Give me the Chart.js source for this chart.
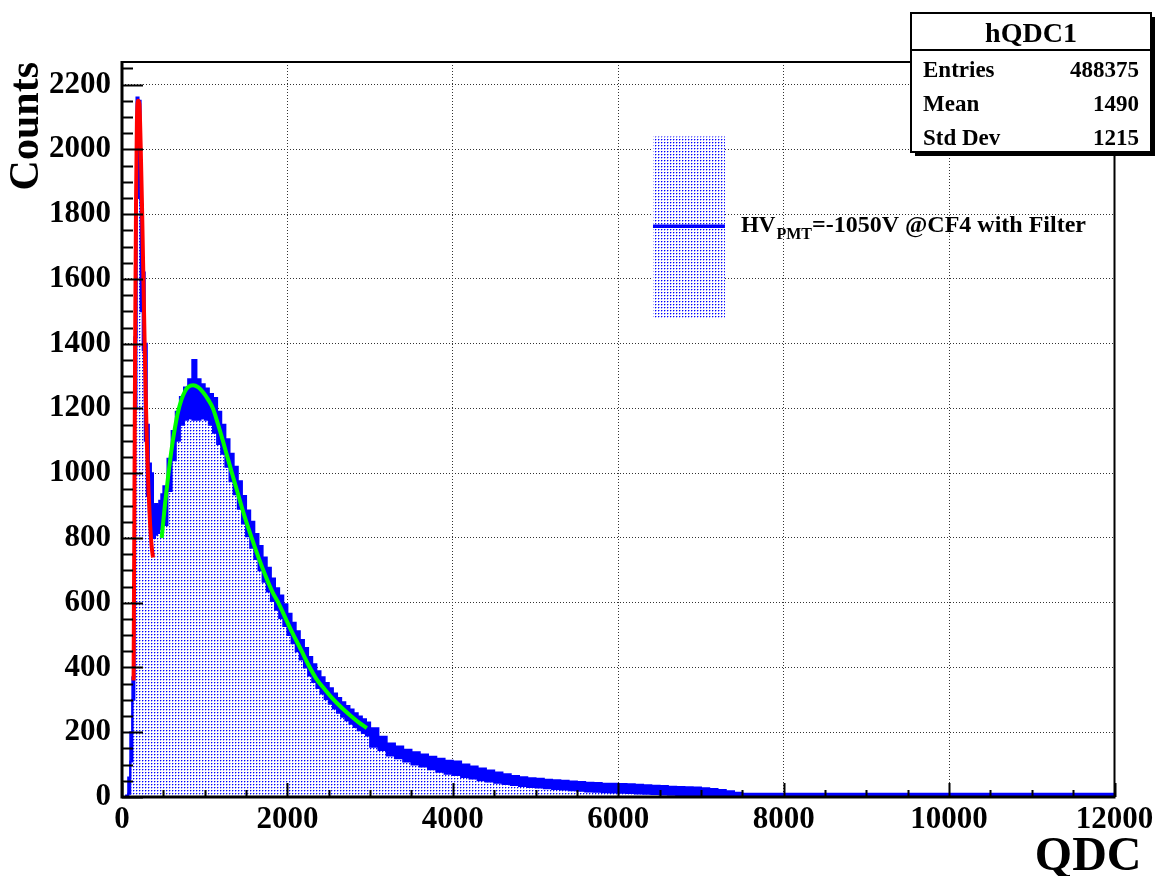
<!DOCTYPE html>
<html><head><meta charset="utf-8">
<script src="https://cdn.jsdelivr.net/npm/chart.js@4.4.1/dist/chart.umd.min.js"></script>
<style>html,body{margin:0;padding:0;background:#fff;}canvas{display:block;}</style>
</head><body>
<canvas id="c" width="1160" height="876" style="width:1160px;height:876px"></canvas>
<script>
// ---- histogram hQDC1 : bin left edges (QDC) and band (upper/lower envelope) counts ----
const pedestalQDC   = [0,25,50,75,100,125,150,175,200,225,250,275,300,325,350,375,400,425,450,475];
const pedestalUpper = [0,0,5,60,200,370,1420,2160,2150,1830,1620,1400,1150,1030,1000,900,905,900,915,935];
const pedestalLower = [0,0,0,10,110,300,1200,1850,1900,1500,1380,1100,930,880,830,800,810,815,830,850];

const peakQDC   = [500,550,600,650,700,750,800,850,900,950,1000,1050,1100,1150,1200,1250,1300,1350,1400,1450,1500,1550,1600,1650,1700,1750,1800,1850,1900,1950,2000,2050,2100,2150,2200,2250,2300,2350,2400,2450,2500,2550,2600,2650,2700,2750,2800,2850,2900,2950];
const peakUpper = [960,1045,1130,1190,1235,1265,1290,1350,1290,1275,1262,1245,1232,1190,1150,1105,1060,1020,975,930,885,850,812,775,740,708,675,645,622,595,566,538,512,485,460,432,410,388,370,352,336,320,306,293,281,270,259,249,240,230];
const peakLower = [840,945,1040,1100,1150,1165,1170,1165,1165,1170,1165,1150,1125,1090,1060,1020,975,935,890,845,805,770,735,700,665,635,605,578,553,528,500,475,450,425,400,375,355,337,320,303,288,273,260,248,237,226,216,206,198,190];

const tailQDC   = [3000,3100,3200,3300,3400,3500,3600,3700,3800,3900,4000,4100,4200,4300,4400,4500,4600,4700,4800,4900,5000,5100,5200,5300,5400,5500,5600,5700,5800,5900,6000,6100,6200,6300,6400,6500,6600,6700,6800,6900,7000,7100,7200,7300,7400,7500,7600];
const tailUpper = [212,186,165,156,146,138,131,124,118,112,110,100,94,88,82,76,70,65,61,58,56,53,52,50,48,46,44,43,41,41,40,39,38,36,35,34,32,31,30,29,27,25,22,18,13,10,10];
const tailLower = [155,145,128,120,110,100,94,86,78,72,68,62,57,52,48,44,40,37,34,31,29,27,25,23,21,19,17,16,15,14,13,12,11,10,9,8,7,6,5,4,3,2,1,0,0,0,0];
const histEnd = 12000;

// ---- fit functions ----
const gausQDC    = [140,150,160,170,180,195,210,225,240,255,270,285,300,320,340,360,375];
const gausCounts = [360,900,1450,1850,2080,2150,2140,2020,1850,1650,1450,1260,1100,950,840,770,740];
const landauQDC    = [480,520,560,600,640,680,720,760,800,860,920,980,1040,1100,1160,1220,1280,1330,1400,1480,1568,1650,1740,1820,1900,1990,2080,2170,2250,2350,2450,2550,2650,2750,2850,2960];
const landauCounts = [800,905,995,1075,1140,1192,1228,1252,1266,1272,1266,1250,1228,1200,1152,1100,1045,1000,938,868,800,740,680,633,595,545,497,452,410,365,333,303,277,254,233,213];

// ---- axis ticks / labels / stats ----
const xTickStep = 2000, xMinorStep = 500, xMax = 12000;
const yTickStep = 200, yMinorStep = 50, yMax = 2270;
const statsTitle = 'hQDC1';
const statsLabels = ['Entries','Mean','Std Dev'];
const statsValues = ['488375','1490','1215'];
const legendMain = 'HV', legendSub = 'PMT', legendRest = '=-1050V @CF4 with Filter';
const xTitle = 'QDC', yTitle = 'Counts';

const binQDC = pedestalQDC.concat(peakQDC, tailQDC);
const upper = pedestalUpper.concat(peakUpper, tailUpper);
const lower = pedestalLower.concat(peakLower, tailLower);
function steps(edges, vals, end){
  const pts = edges.map((q,i)=>({x:q,y:vals[i]}));
  pts.push({x:end, y:vals[vals.length-1]});
  return pts;
}
const canvas = document.getElementById('c');
const ctx0 = canvas.getContext('2d');
function makePattern(){
  const t = document.createElement('canvas'); t.width = 3; t.height = 3;
  const g = t.getContext('2d');
  g.fillStyle = '#ffffff'; g.fillRect(0,0,3,3);
  g.fillStyle = '#0000ff'; g.fillRect(1,1,1,1);
  g.fillStyle = 'rgba(0,0,255,0.35)'; g.fillRect(2,1,1,1); g.fillRect(1,2,1,1);
  return ctx0.createPattern(t,'repeat');
}
const dotPattern = makePattern();
const SERIF = '"Liberation Serif", "Times New Roman", serif';

const decor = {
  id:'rootDecor',
  afterDraw(chart){
    const ctx = chart.ctx, a = chart.chartArea, xs = chart.scales.x, ys = chart.scales.y;
    ctx.save();
    // ticks (inward)
    ctx.strokeStyle = '#000'; ctx.lineWidth = 2;
    ctx.beginPath();
    for (let v = 0; v <= xMax; v += xMinorStep){
      const px = Math.round(xs.getPixelForValue(v)) + 0.5;
      const len = (v % xTickStep === 0) ? 14 : 7;
      ctx.moveTo(px, a.bottom); ctx.lineTo(px, a.bottom - len);
    }
    for (let v = 0; v <= yMax; v += yMinorStep){
      const py = Math.round(ys.getPixelForValue(v)) + 0.5;
      const len = (v % yTickStep === 0) ? 21 : 11;
      ctx.moveTo(a.left, py); ctx.lineTo(a.left + len, py);
    }
    ctx.stroke();
    // frame
    ctx.lineWidth = 2;
    ctx.beginPath();
    ctx.moveTo(a.left, a.top); ctx.lineTo(a.right, a.top); ctx.lineTo(a.right, a.bottom);
    ctx.stroke();
    ctx.lineWidth = 3;
    ctx.beginPath();
    ctx.moveTo(a.left, a.top - 1); ctx.lineTo(a.left, a.bottom); ctx.lineTo(a.right + 1, a.bottom);
    ctx.stroke();

    // legend
    const lx0 = xs.getPixelForValue(6420), lx1 = xs.getPixelForValue(7290);
    const ly0 = ys.getPixelForValue(2040), ly1 = ys.getPixelForValue(1480);
    ctx.fillStyle = dotPattern;
    ctx.fillRect(lx0, ly0, lx1 - lx0, ly1 - ly0);
    const lym = (ly0 + ly1) / 2 - 1;
    ctx.strokeStyle = '#0000ff'; ctx.lineWidth = 3.5;
    ctx.beginPath(); ctx.moveTo(lx0, lym); ctx.lineTo(lx1, lym); ctx.stroke();
    ctx.fillStyle = '#000'; ctx.textBaseline = 'alphabetic'; ctx.textAlign = 'left';
    let tx = lx1 + 16;
    ctx.font = 'bold 23px ' + SERIF;
    ctx.fillText(legendMain, tx, lym + 6); tx += ctx.measureText(legendMain).width + 1;
    ctx.font = 'bold 16px ' + SERIF;
    ctx.fillText(legendSub, tx, lym + 13); tx += ctx.measureText(legendSub).width;
    ctx.font = 'bold 24px ' + SERIF;
    ctx.fillText(legendRest, tx, lym + 6);

    // stats box
    const bx = 911, by = 13, bw = 240, bh = 139;
    ctx.fillStyle = '#000'; ctx.fillRect(bx + 4, by + 4, bw, bh);
    ctx.fillStyle = '#fff'; ctx.fillRect(bx, by, bw, bh);
    ctx.strokeStyle = '#000'; ctx.lineWidth = 2;
    ctx.strokeRect(bx, by, bw, bh);
    ctx.beginPath(); ctx.moveTo(bx, 50); ctx.lineTo(bx + bw, 50); ctx.stroke();
    ctx.fillStyle = '#000';
    ctx.font = 'bold 28px ' + SERIF; ctx.textAlign = 'center';
    ctx.fillText(statsTitle, bx + bw/2, 42);
    ctx.font = 'bold 23px ' + SERIF;
    const rowsY = [77, 111, 145];
    statsLabels.forEach((s,i)=>{
      ctx.textAlign = 'left'; ctx.fillText(s, bx + 12, rowsY[i]);
      ctx.textAlign = 'right'; ctx.fillText(statsValues[i], bx + bw - 12, rowsY[i]);
    });
    // x title
    ctx.font = 'bold 48px ' + SERIF; ctx.textAlign = 'right';
    ctx.fillText(xTitle, a.right + 27, 870);
    ctx.restore();
  }
};

new Chart(canvas, {
  type: 'line',
  data: {
    datasets: [
      { label:'hist-lower', data: steps(binQDC, lower, histEnd), stepped:true, borderColor:'#0000ff', borderWidth:2,
        fill:'origin', backgroundColor: dotPattern, pointRadius:0, order:4 },
      { label:'hist-upper', data: steps(binQDC, upper, histEnd), stepped:true, borderColor:'#0000ff', borderWidth:2,
        fill:'-1', backgroundColor:'#0000ff', pointRadius:0, order:3 },
      { label:'landau', data: landauQDC.map((q,i)=>({x:q,y:landauCounts[i]})), borderColor:'#00ff00', borderWidth:4,
        cubicInterpolationMode:'monotone', fill:false, pointRadius:0, order:2 },
      { label:'gaus', data: gausQDC.map((q,i)=>({x:q,y:gausCounts[i]})), borderColor:'#ff0000', borderWidth:4,
        cubicInterpolationMode:'monotone', fill:false, pointRadius:0, order:1 }
    ]
  },
  options: {
    responsive:false, animation:false, devicePixelRatio:1,
    layout:{ padding:{ top:62, right:45.5, bottom:0, left:0 } },
    plugins:{ legend:{display:false}, tooltip:{enabled:false} },
    scales:{
      x:{ type:'linear', min:0, max:xMax,
        afterFit(s){ s.height = 79; },
        ticks:{ stepSize:xTickStep, includeBounds:false, autoSkip:false, maxRotation:0, padding:4, color:'#000',
          font:{ family:SERIF, size:31, weight:'bold' }, callback:v=>String(v) },
        grid:{ color:'#333', lineWidth:1, drawTicks:false },
        border:{ display:false, dash:[1,2] }
      },
      y:{ type:'linear', min:0, max:yMax,
        afterFit(s){ s.width = 122; },
        ticks:{ stepSize:yTickStep, includeBounds:false, padding:11, color:'#000',
          font:{ family:SERIF, size:31, weight:'bold' }, callback:v=>String(v) },
        grid:{ color:'#333', lineWidth:1, drawTicks:false },
        border:{ display:false, dash:[1,2] },
        title:{ display:true, text:yTitle, align:'end', color:'#000', padding:{top:2,bottom:0},
          font:{ family:SERIF, size:42, weight:'bold' } }
      }
    }
  },
  plugins:[decor]
});
</script>
</body></html>
